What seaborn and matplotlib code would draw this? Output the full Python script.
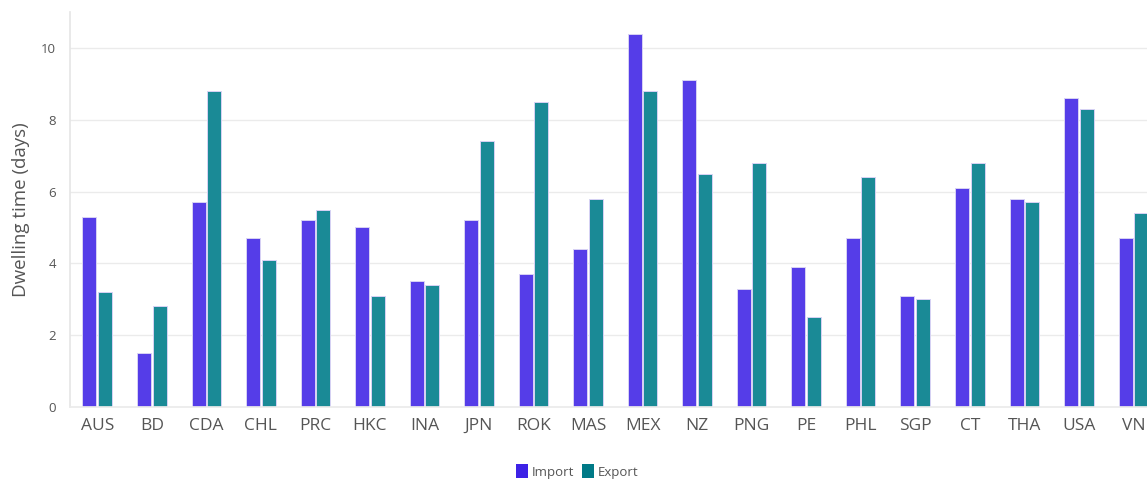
import matplotlib
matplotlib.use("Agg")
import matplotlib.pyplot as plt
import seaborn as sns
import pandas as pd
import matplotlib.patches as mpatches

categories = ["AUS", "BD", "CDA", "CHL", "PRC", "HKC", "INA", "JPN", "ROK", "MAS",
              "MEX", "NZ", "PNG", "PE", "PHL", "SGP", "CT", "THA", "USA", "VN"]
import_vals = [5.3, 1.5, 5.7, 4.7, 5.2, 5.0, 3.5, 5.2, 3.7, 4.4,
               10.4, 9.1, 3.3, 3.9, 4.7, 3.1, 6.1, 5.8, 8.6, 4.7]
export_vals = [3.2, 2.8, 8.8, 4.1, 5.5, 3.1, 3.4, 7.4, 8.5, 5.8,
               8.8, 6.5, 6.8, 2.5, 6.4, 3.0, 6.8, 5.7, 8.3, 5.4]
series = ["Import", "Export"]
y_ticks = [0, 2, 4, 6, 8, 10]

df = pd.DataFrame({
    "economy": categories * 2,
    "value": import_vals + export_vals,
    "flow": ["Import"] * len(categories) + ["Export"] * len(categories),
})

sns.set_theme(style="white")
plt.rcParams["font.family"] = ["Open Sans", "DejaVu Sans"]

colors = {"Import": "#553de8", "Export": "#1a8a96"}

fig = plt.figure(figsize=(11.47, 4.8), dpi=100)
ax = fig.add_axes([0.061, 0.152, 0.939, 0.823])

sns.barplot(data=df, x="economy", y="value", hue="flow", hue_order=series,
            palette=colors, order=categories, width=0.57, gap=0.1,
            edgecolor="#d8d2f5", linewidth=0.7, saturation=1, ax=ax, legend=False)

ax.set_xlim(-0.5, 19.25)
ax.set_ylim(0, 11)
ax.set_yticks(y_ticks)
ax.yaxis.grid(True, color="#ebebeb", linewidth=1)
ax.set_axisbelow(True)
for s in ["top", "right"]:
    ax.spines[s].set_visible(False)
ax.spines["left"].set_color("#e6e6e6")
ax.spines["bottom"].set_color("#ebebeb")
ax.tick_params(axis="x", labelsize=12.5, colors="#e0e0e0", labelcolor="#555555",
               length=6, width=1, direction="out", pad=2)
ax.tick_params(axis="y", labelsize=9.5, colors="#e0e0e0", labelcolor="#555555",
               length=6, width=1, direction="out", pad=4)
ax.set_xlabel("")
ax.set_ylabel("Dwelling time (days)", fontsize=13.5, color="#555555", labelpad=8)

handles = [mpatches.Patch(facecolor="#3d22e6", edgecolor="none", label="Import"),
           mpatches.Patch(facecolor="#007a87", edgecolor="none", label="Export")]
fig.legend(handles=handles, loc="lower center", bbox_to_anchor=(0.503, -0.022), ncol=2,
           frameon=False, fontsize=9.5, handlelength=0.9, handleheight=1.2,
           handletextpad=0.3, columnspacing=0.6, labelcolor="#555555")

fig.savefig("out.png", dpi=100, facecolor="white")
